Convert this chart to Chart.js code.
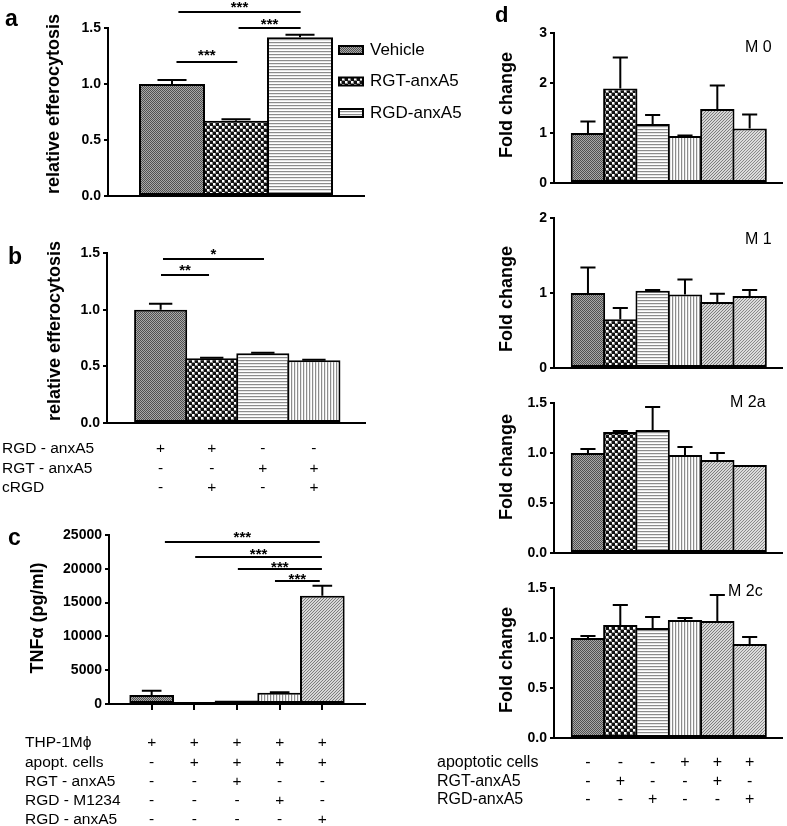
<!DOCTYPE html>
<html><head><meta charset="utf-8">
<script src="https://cdn.jsdelivr.net/npm/chart.js@4.4.0/dist/chart.umd.min.js"></script>
<style>
html,body{margin:0;padding:0;background:#fff;}
#wrap{position:relative;width:787px;height:826px;overflow:hidden;background:#fff;}
#wrap canvas{position:absolute;left:0;top:0;}
</style></head><body>
<div id="wrap">
<canvas id="ca" width="787" height="826"></canvas>
<canvas id="cb" width="787" height="826"></canvas>
<canvas id="cc" width="787" height="826"></canvas>
<canvas id="cd0" width="787" height="826"></canvas>
<canvas id="cd1" width="787" height="826"></canvas>
<canvas id="cd2" width="787" height="826"></canvas>
<canvas id="cd3" width="787" height="826"></canvas>
</div>
<script>
// ---------------- DATA ----------------
const aCategories = ['Vehicle', 'RGT-anxA5', 'RGD-anxA5'];
const aValues = [1.0, 0.672, 1.417];
const aErrors = [0.036, 0.013, 0.023];

const bValues = [1.0, 0.571, 0.615, 0.553];
const bErrors = [0.053, 0.005, 0.005, 0.004];
const bRowLabels = ['RGD - anxA5', 'RGT - anxA5', 'cRGD'];
const bRowSigns = [['+', '+', '-', '-'], ['-', '-', '+', '+'], ['-', '+', '-', '+']];

const cValues = [1330, 300, 500, 1670, 16020];
const cErrors = [640, 0, 0, 80, 1480];
const cRowLabels = ['THP-1M\u03d5', 'apopt. cells', 'RGT - anxA5', 'RGD - M1234', 'RGD - anxA5'];
const cRowSigns = [['+', '+', '+', '+', '+'], ['-', '+', '+', '+', '+'], ['-', '-', '+', '-', '-'], ['-', '-', '-', '+', '-'], ['-', '-', '-', '-', '+']];

const dM0Values = [1.0, 1.89, 1.18, 0.94, 1.48, 1.09];
const dM0Errors = [0.23, 0.62, 0.18, 0.01, 0.47, 0.28];
const dM1Values = [1.0, 0.65, 1.03, 0.98, 0.88, 0.96];
const dM1Errors = [0.34, 0.15, 0.01, 0.20, 0.11, 0.08];
const dM2aValues = [1.0, 1.21, 1.23, 0.98, 0.93, 0.88];
const dM2aErrors = [0.04, 0.01, 0.23, 0.08, 0.07, 0];
const dM2cValues = [1.0, 1.13, 1.10, 1.18, 1.17, 0.94];
const dM2cErrors = [0.02, 0.20, 0.11, 0.02, 0.26, 0.07];
const dRowLabels = ['apoptotic cells', 'RGT-anxA5', 'RGD-anxA5'];
const dRowSigns = [['-', '-', '-', '+', '+', '+'], ['-', '+', '-', '-', '+', '-'], ['-', '-', '+', '-', '-', '+']];

// ---------------- STYLE ----------------
const W = 787, H = 826, YW = 60;
const FONT = '"Liberation Sans", Arial, Helvetica, sans-serif';

function tile(w, h, fn) {
  const c = document.createElement('canvas'); c.width = w; c.height = h;
  const x = c.getContext('2d'); fn(x, w, h);
  return x.createPattern(c, 'repeat');
}
function px(x, c, i, j, col) { x.fillStyle = col; x.fillRect(i, j, 1, 1); }
const P = {
  vehicle: tile(2, 2, (x) => { px(x,0,0,0,'#505050'); px(x,0,1,1,'#505050'); px(x,0,1,0,'#a8a8a8'); px(x,0,0,1,'#a8a8a8'); }),
  rgt: tile(6, 6, (x) => { x.fillStyle = '#111'; x.fillRect(0,0,6,6); x.fillStyle='#8a8a8a'; x.fillRect(0,0,3,3); x.fillRect(3,3,3,3); x.fillStyle='#fff'; x.fillRect(0,0,2,2); x.fillRect(3,3,2,2); }),
  hlines: tile(1, 3, (x) => { px(x,0,0,0,'#8c8c8c'); px(x,0,0,1,'#e6e6e6'); px(x,0,0,2,'#ffffff'); }),
  vlines: tile(3, 1, (x) => { px(x,0,0,0,'#8c8c8c'); px(x,0,1,0,'#e6e6e6'); px(x,0,2,0,'#ffffff'); }),
  diag: tile(3, 3, (x) => { for (let i=0;i<3;i++) for (let j=0;j<3;j++) px(x,0,i,j, (i+j)%3===0 ? '#7c7c7c' : '#d6d6d6'); }),
  diag2: tile(3, 3, (x) => { for (let i=0;i<3;i++) for (let j=0;j<3;j++) px(x,0,i,j, (i+j)%3===0 ? '#8a8a8a' : '#dcdcdc'); }),
  dark: tile(2, 2, (x) => { px(x,0,0,0,'#333'); px(x,0,1,1,'#333'); px(x,0,1,0,'#777'); px(x,0,0,1,'#777'); })
};

// ---------------- PLUGIN ----------------
function extras(o) {
  return {
    id: 'extras',
    afterDatasetsDraw(chart) {
      const ctx = chart.ctx, ys = chart.scales.y;
      const meta = chart.getDatasetMeta(0);
      ctx.save();
      ctx.strokeStyle = '#000'; ctx.lineWidth = 2; ctx.lineCap = 'butt';
      meta.data.forEach((el, i) => {
        const e = o.errors[i];
        if (!e) return;
        const top = ys.getPixelForValue(o.values[i] + e);
        const hw = el.width * 0.22;
        ctx.beginPath();
        ctx.moveTo(el.x, el.y); ctx.lineTo(el.x, top);
        ctx.moveTo(el.x - hw, top); ctx.lineTo(el.x + hw, top);
        ctx.stroke();
      });
      ctx.restore();
    },
    afterDraw(chart) {
      const ctx = chart.ctx, xs = chart.scales.x, ys = chart.scales.y;
      ctx.save();
      ctx.fillStyle = '#000'; ctx.strokeStyle = '#000';
      (o.sig || []).forEach(s => {
        const x1 = xs.getPixelForValue(s.from), x2 = xs.getPixelForValue(s.to), y = ys.getPixelForValue(s.y);
        ctx.lineWidth = 2;
        ctx.beginPath(); ctx.moveTo(x1, y); ctx.lineTo(x2, y); ctx.stroke();
        ctx.font = 'bold 15px ' + FONT; ctx.textAlign = 'center'; ctx.textBaseline = 'alphabetic';
        ctx.fillText(s.label, (x1 + x2) / 2, y + (s.dy || 0));
      });
      if (o.yTitle) {
        ctx.save();
        ctx.translate(o.yTitle.x, o.yTitle.y); ctx.rotate(-Math.PI / 2);
        ctx.font = 'bold 18px ' + FONT; ctx.textAlign = 'center'; ctx.textBaseline = 'middle';
        ctx.fillText(o.yTitle.text, 0, 0);
        ctx.restore();
      }
      if (o.letter) {
        ctx.font = 'bold ' + o.letter.size + 'px ' + FONT; ctx.textAlign = 'left'; ctx.textBaseline = 'alphabetic';
        ctx.fillText(o.letter.text, o.letter.x, o.letter.y);
      }
      if (o.sub) {
        ctx.font = '16px ' + FONT; ctx.textAlign = 'left'; ctx.textBaseline = 'middle';
        ctx.fillText(o.sub.text, o.sub.x, o.sub.y);
      }
      if (o.rows) {
        const r = o.rows;
        r.labels.forEach((lab, k) => {
          const y = r.y0 + k * r.dy;
          ctx.font = r.size + 'px ' + FONT; ctx.textAlign = 'left'; ctx.textBaseline = 'middle';
          ctx.fillText(lab, r.x, y);
          ctx.textAlign = 'center';
          r.signs[k].forEach((sg, i) => ctx.fillText(sg, xs.getPixelForValue(i + 1), y));
        });
      }
      if (o.legend) {
        const L = o.legend;
        L.items.forEach((it, k) => {
          const cy = L.y0 + k * L.dy;
          ctx.fillStyle = it.fill; ctx.fillRect(L.x, cy - 4, 24, 8);
          ctx.lineWidth = 2; ctx.strokeStyle = '#000'; ctx.strokeRect(L.x, cy - 4, 24, 8);
          ctx.fillStyle = '#000'; ctx.font = '17px ' + FONT; ctx.textAlign = 'left'; ctx.textBaseline = 'middle';
          ctx.fillText(it.label, L.x + 31, cy);
        });
      }
      ctx.restore();
    }
  };
}

function makeChart(id, o) {
  const unit = (o.box.x1 - o.box.x0) / (o.xMax - o.xMin);
  const bp = (unit + 2) / unit;
  return new Chart(document.getElementById(id), {
    type: 'bar',
    data: { datasets: [{
      data: o.values.map((v, i) => ({ x: i + 1, y: v })),
      backgroundColor: o.fills, borderColor: '#000', borderWidth: 2, borderSkipped: false,
      barPercentage: bp, categoryPercentage: 1
    }] },
    options: {
      responsive: false, animation: false, devicePixelRatio: 1, events: [],
      layout: { padding: { left: o.box.x0 - YW, right: W - o.box.x1, top: o.box.yTop, bottom: H - o.box.yBot } },
      plugins: { legend: { display: false }, tooltip: { enabled: false }, title: { display: false } },
      scales: {
        x: {
          type: 'linear', min: o.xMin, max: o.xMax, offset: false,
          afterFit: s => { s.height = 0; },
          afterBuildTicks: s => { s.ticks = o.values.map((v, i) => ({ value: i + 1 })); },
          ticks: { display: false },
          grid: { display: !!o.xTicks, offset: false, drawOnChartArea: false, drawTicks: true, tickLength: 6, color: '#000', lineWidth: 2 },
          border: { display: true, color: '#000', width: 2 }
        },
        y: {
          min: 0, max: o.yMax,
          afterFit: s => { s.width = YW; },
          ticks: { stepSize: o.step, callback: o.fmt, color: '#000', padding: 3, font: { family: FONT, size: 14, weight: 'bold' } },
          grid: { drawOnChartArea: false, drawTicks: true, tickLength: 4, color: '#000', lineWidth: 2 },
          border: { display: true, color: '#000', width: 2 }
        }
      }
    },
    plugins: [extras(o)]
  });
}

const f1 = v => Number(v).toFixed(1);
const f0 = v => String(v);

makeChart('ca', {
  values: aValues, errors: aErrors, fills: [P.vehicle, P.rgt, P.hlines],
  box: { x0: 108, x1: 364, yTop: 28, yBot: 196 }, xMin: 0, xMax: 4, yMax: 1.5, step: 0.5, fmt: f1,
  sig: [
    { from: 1.10, to: 3.01, y: 1.643, label: '***', dy: 0 },
    { from: 2.04, to: 3.01, y: 1.5, label: '***', dy: 1 },
    { from: 1.07, to: 2.02, y: 1.196, label: '***', dy: -2 }
  ],
  yTitle: { text: 'relative efferocytosis', x: 54, y: 104 },
  letter: { text: 'a', x: 5, y: 26, size: 23 },
  legend: { x: 339, y0: 50, dy: 31.5, items: aCategories.map((c, i) => ({ label: c, fill: [P.vehicle, P.rgt, P.hlines][i] })) }
});

makeChart('cb', {
  values: bValues, errors: bErrors, fills: [P.vehicle, P.rgt, P.hlines, P.vlines],
  box: { x0: 107, x1: 365, yTop: 253, yBot: 423 }, xMin: -0.05, xMax: 5.0, yMax: 1.5, step: 0.5, fmt: f1,
  sig: [
    { from: 1.046, to: 3.023, y: 1.447, label: '*', dy: 0 },
    { from: 1.007, to: 1.947, y: 1.306, label: '**', dy: 0 }
  ],
  yTitle: { text: 'relative efferocytosis', x: 55, y: 331 },
  letter: { text: 'b', x: 8, y: 264, size: 23 },
  rows: { labels: bRowLabels, signs: bRowSigns, x: 2, y0: 449, dy: 19.5, size: 15.5 }
});

makeChart('cc', {
  values: cValues, errors: cErrors, fills: [P.vehicle, P.hlines, P.dark, P.vlines, P.diag],
  box: { x0: 109, x1: 365, yTop: 535, yBot: 704 }, xMin: 0, xMax: 6, yMax: 25000, step: 5000, fmt: f0, xTicks: true,
  sig: [
    { from: 1.31, to: 4.94, y: 23964, label: '***', dy: 0 },
    { from: 2.02, to: 4.99, y: 21746, label: '***', dy: 2 },
    { from: 3.02, to: 4.99, y: 19970, label: '***', dy: 3 },
    { from: 3.89, to: 4.94, y: 18195, label: '***', dy: 3 }
  ],
  yTitle: { text: 'TNF\u03b1 (pg/ml)', x: 38, y: 618 },
  letter: { text: 'c', x: 8, y: 545, size: 23 },
  rows: { labels: cRowLabels, signs: cRowSigns, x: 25, y0: 743, dy: 19.3, size: 15.5 }
});

const dFills = [P.vehicle, P.rgt, P.hlines, P.vlines, P.diag, P.diag2];
const dBase = { fills: dFills, xMin: -0.05, xMax: 7 };
makeChart('cd0', Object.assign({}, dBase, {
  values: dM0Values, errors: dM0Errors, box: { x0: 554, x1: 782, yTop: 33, yBot: 183 }, yMax: 3, step: 1, fmt: f0,
  yTitle: { text: 'Fold change', x: 507, y: 105 }, letter: { text: 'd', x: 495, y: 22, size: 22 },
  sub: { text: 'M 0', x: 745, y: 48 }
}));
makeChart('cd1', Object.assign({}, dBase, {
  values: dM1Values, errors: dM1Errors, box: { x0: 554, x1: 782, yTop: 218, yBot: 368 }, yMax: 2, step: 1, fmt: f0,
  yTitle: { text: 'Fold change', x: 507, y: 299 }, sub: { text: 'M 1', x: 745, y: 240 }
}));
makeChart('cd2', Object.assign({}, dBase, {
  values: dM2aValues, errors: dM2aErrors, box: { x0: 554, x1: 782, yTop: 403, yBot: 553 }, yMax: 1.5, step: 0.5, fmt: f1,
  yTitle: { text: 'Fold change', x: 507, y: 467 }, sub: { text: 'M 2a', x: 730, y: 403 }
}));
makeChart('cd3', Object.assign({}, dBase, {
  values: dM2cValues, errors: dM2cErrors, box: { x0: 554, x1: 782, yTop: 588, yBot: 738 }, yMax: 1.5, step: 0.5, fmt: f1,
  yTitle: { text: 'Fold change', x: 507, y: 660 }, sub: { text: 'M 2c', x: 728, y: 592 },
  rows: { labels: dRowLabels, signs: dRowSigns, x: 437, y0: 763, dy: 18.5, size: 16 }
}));
</script>
</body></html>
